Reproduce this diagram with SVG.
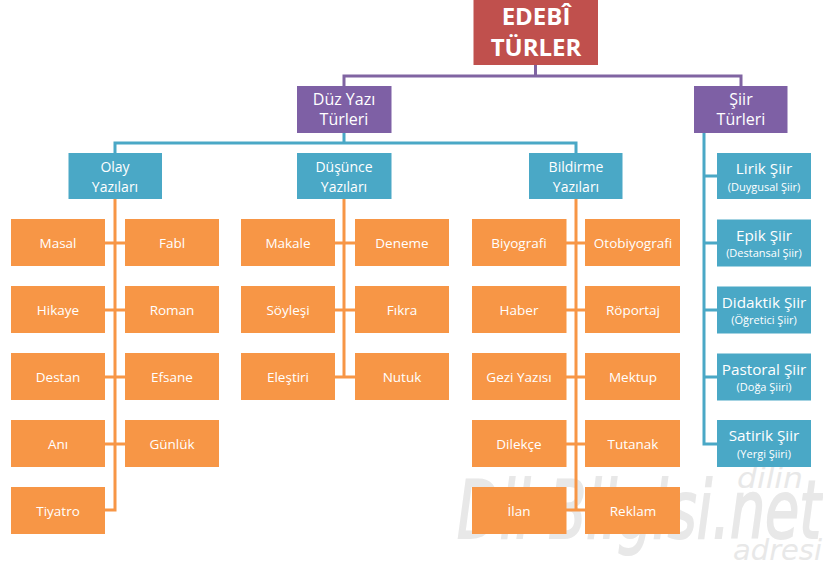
<svg xmlns="http://www.w3.org/2000/svg" width="823" height="571" viewBox="0 0 823 571">
<style>
text{font-family:"Open Sans","Noto Sans","Liberation Sans",sans-serif;fill:#fff;text-anchor:middle}
.r{fill:#c0504d}.p{fill:#7e60a5}.b{fill:#4aa8c6}.o{fill:#f79646}
.t{font-size:16px}.s{font-size:14px}.a{font-size:13.500px}.l{font-size:15.300px}.m{font-size:11px}.h{font-size:24px;font-weight:700}
text.wm{fill:#e8e8e8;font-style:italic;text-anchor:start;font-family:"DejaVu Sans",sans-serif}
.cp,.cb,.co{fill:none;stroke-width:3}.cp{stroke:#8064a2}.cb{stroke:#4aa8c6}.co{stroke:#f79646}
</style>
<g id="watermark">
<text class="wm" x="457" y="538" font-size="80" stroke="#e8e8e8" stroke-width="2" textLength="364" lengthAdjust="spacingAndGlyphs">Dil Bilgisi.net</text>
<text class="wm" x="737" y="488" font-size="29" textLength="66" lengthAdjust="spacingAndGlyphs">dilin</text>
<text class="wm" x="733" y="560" font-size="29" textLength="89" lengthAdjust="spacingAndGlyphs">adresi</text>
</g>
<g id="connectors">
<path class="cp" d="M535.500 65V76M344 86V76H741V86"/>
<path class="cb" d="M344 132V143M115 153V143H576V153M704 132V444H717M704 176H717M704 243H717M704 310H717M704 377H717"/>
<path class="co" d="M115 199V510H105M105 243H125M105 310H125M105 377H125M105 444H125"/>
<path class="co" d="M344 199V377M335 243H355M335 310H355M335 377H355"/>
<path class="co" d="M576 199V510M566 243H585M566 310H585M566 377H585M566 444H585M566 510H585"/>
</g>
<g id="n-root"><rect class="r" x="473.500" y="0" width="124.500" height="65"/><text class="h" x="536" y="25">EDEBÎ</text><text class="h" x="536" y="56">TÜRLER</text></g>
<g id="n-duz"><rect class="p" x="297" y="86" width="94.500" height="47"/><text class="t" x="344" y="105">Düz Yazı</text><text class="t" x="344" y="125">Türleri</text></g>
<g id="n-siir"><rect class="p" x="694" y="86" width="93.500" height="47"/><text class="t" x="741" y="105">Şiir</text><text class="t" x="741" y="125">Türleri</text></g>
<g id="n-olay"><rect class="b" x="68.500" y="153" width="93.500" height="46"/><text class="s" x="115" y="172">Olay</text><text class="s" x="115" y="192">Yazıları</text></g>
<g id="n-dusunce"><rect class="b" x="297" y="153" width="94.500" height="46"/><text class="s" x="344" y="172">Düşünce</text><text class="s" x="344" y="192">Yazıları</text></g>
<g id="n-bildirme"><rect class="b" x="529" y="153" width="93.500" height="46"/><text class="s" x="576" y="172">Bildirme</text><text class="s" x="576" y="192">Yazıları</text></g>
<g id="n-lirik"><rect class="b" x="717" y="153" width="94" height="46"/><text class="l" x="764" y="174">Lirik Şiir</text><text class="m" x="764" y="191">(Duygusal Şiir)</text></g>
<g id="n-epik"><rect class="b" x="717" y="219.500" width="94" height="47"/><text class="l" x="764" y="241">Epik Şiir</text><text class="m" x="764" y="257">(Destansal Şiir)</text></g>
<g id="n-didaktik"><rect class="b" x="717" y="286.500" width="94" height="47"/><text class="l" x="764" y="308">Didaktik Şiir</text><text class="m" x="764" y="324">(Öğretici Şiir)</text></g>
<g id="n-pastoral"><rect class="b" x="717" y="353.500" width="94" height="47"/><text class="l" x="764" y="375">Pastoral Şiir</text><text class="m" x="764" y="391">(Doğa Şiiri)</text></g>
<g id="n-satirik"><rect class="b" x="717" y="420" width="94" height="47"/><text class="l" x="764" y="441">Satirik Şiir</text><text class="m" x="764" y="458">(Yergi Şiiri)</text></g>
<g id="n-masal"><rect class="o" x="11" y="219" width="94" height="47"/><text class="a" x="58" y="248">Masal</text></g>
<g id="n-fabl"><rect class="o" x="125" y="219" width="94" height="47"/><text class="a" x="172" y="248">Fabl</text></g>
<g id="n-hikaye"><rect class="o" x="11" y="286" width="94" height="47"/><text class="a" x="58" y="315">Hikaye</text></g>
<g id="n-roman"><rect class="o" x="125" y="286" width="94" height="47"/><text class="a" x="172" y="315">Roman</text></g>
<g id="n-destan"><rect class="o" x="11" y="353" width="94" height="47"/><text class="a" x="58" y="382">Destan</text></g>
<g id="n-efsane"><rect class="o" x="125" y="353" width="94" height="47"/><text class="a" x="172" y="382">Efsane</text></g>
<g id="n-ani"><rect class="o" x="11" y="420" width="94" height="47"/><text class="a" x="58" y="449">Anı</text></g>
<g id="n-gunluk"><rect class="o" x="125" y="420" width="94" height="47"/><text class="a" x="172" y="449">Günlük</text></g>
<g id="n-tiyatro"><rect class="o" x="11" y="487" width="94" height="47"/><text class="a" x="58" y="516">Tiyatro</text></g>
<g id="n-makale"><rect class="o" x="241" y="219" width="94" height="47"/><text class="a" x="288" y="248">Makale</text></g>
<g id="n-deneme"><rect class="o" x="355" y="219" width="94" height="47"/><text class="a" x="402" y="248">Deneme</text></g>
<g id="n-soylesi"><rect class="o" x="241" y="286" width="94" height="47"/><text class="a" x="288" y="315">Söyleşi</text></g>
<g id="n-fikra"><rect class="o" x="355" y="286" width="94" height="47"/><text class="a" x="402" y="315">Fıkra</text></g>
<g id="n-elestiri"><rect class="o" x="241" y="353" width="94" height="47"/><text class="a" x="288" y="382">Eleştiri</text></g>
<g id="n-nutuk"><rect class="o" x="355" y="353" width="94" height="47"/><text class="a" x="402" y="382">Nutuk</text></g>
<g id="n-biyografi"><rect class="o" x="472" y="219" width="94.500" height="47"/><text class="a" x="519" y="248">Biyografi</text></g>
<g id="n-otobiyografi"><rect class="o" x="585" y="219" width="95" height="47"/><text class="a" x="633" y="248">Otobiyografi</text></g>
<g id="n-haber"><rect class="o" x="472" y="286" width="94.500" height="47"/><text class="a" x="519" y="315">Haber</text></g>
<g id="n-roportaj"><rect class="o" x="585" y="286" width="95" height="47"/><text class="a" x="633" y="315">Röportaj</text></g>
<g id="n-gezi"><rect class="o" x="472" y="353" width="94.500" height="47"/><text class="a" x="519" y="382">Gezi Yazısı</text></g>
<g id="n-mektup"><rect class="o" x="585" y="353" width="95" height="47"/><text class="a" x="633" y="382">Mektup</text></g>
<g id="n-dilekce"><rect class="o" x="472" y="420" width="94.500" height="47"/><text class="a" x="519" y="449">Dilekçe</text></g>
<g id="n-tutanak"><rect class="o" x="585" y="420" width="95" height="47"/><text class="a" x="633" y="449">Tutanak</text></g>
<g id="n-ilan"><rect class="o" x="472" y="487" width="94.500" height="47"/><text class="a" x="519" y="516">İlan</text></g>
<g id="n-reklam"><rect class="o" x="585" y="487" width="95" height="47"/><text class="a" x="633" y="516">Reklam</text></g>
</svg>
